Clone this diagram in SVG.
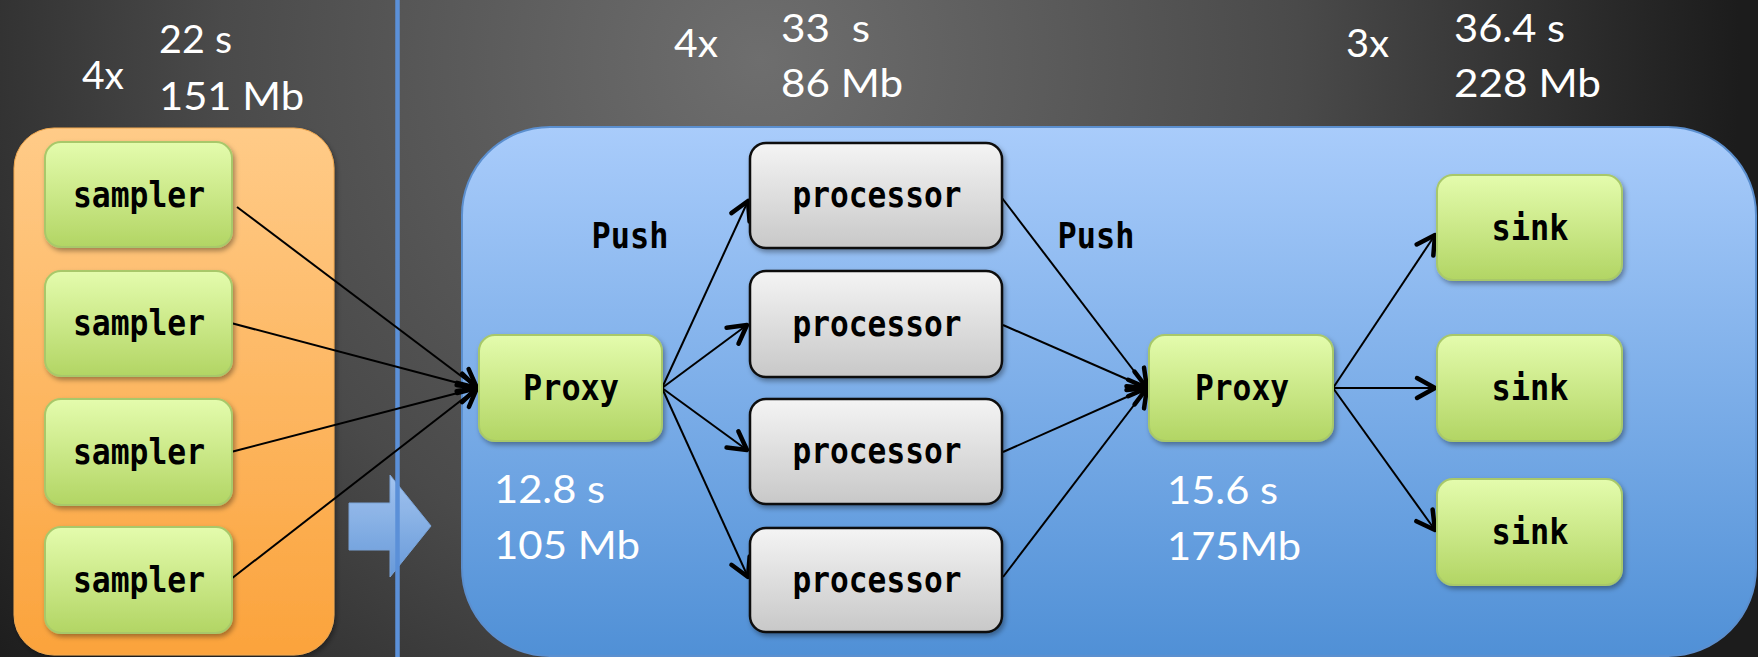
<svg xmlns="http://www.w3.org/2000/svg" width="1758" height="657" viewBox="0 0 1758 657">
<defs>
<radialGradient id="bg" gradientUnits="userSpaceOnUse" cx="760" cy="60" r="980">
<stop offset="0" stop-color="#6e6e6e"/>
<stop offset="0.55" stop-color="#4a4a4a"/>
<stop offset="1" stop-color="#1c1c1c"/>
</radialGradient>
<linearGradient id="green" x1="0" y1="0" x2="0" y2="1">
<stop offset="0" stop-color="#e4fcad"/>
<stop offset="1" stop-color="#b2d564"/>
</linearGradient>
<linearGradient id="gray" x1="0" y1="0" x2="0" y2="1">
<stop offset="0" stop-color="#f4f4f4"/>
<stop offset="1" stop-color="#c8c8c8"/>
</linearGradient>
<linearGradient id="orange" x1="0" y1="0" x2="0" y2="1">
<stop offset="0" stop-color="#ffcb88"/>
<stop offset="1" stop-color="#fba33c"/>
</linearGradient>
<linearGradient id="blue" x1="0" y1="0" x2="0" y2="1">
<stop offset="0" stop-color="#a9ccfb"/>
<stop offset="1" stop-color="#5090d6"/>
</linearGradient>
<linearGradient id="barrow" x1="0" y1="0" x2="0" y2="1">
<stop offset="0" stop-color="#a8cbf8"/>
<stop offset="1" stop-color="#6a9fe2"/>
</linearGradient>
<filter id="shadow" x="-10%" y="-10%" width="130%" height="130%">
<feDropShadow dx="2" dy="3" stdDeviation="2.5" flood-color="#000" flood-opacity="0.35"/>
</filter>
<marker id="arr" markerUnits="userSpaceOnUse" viewBox="-22 -14 26 28" refX="0" refY="0" markerWidth="26" markerHeight="28" orient="auto">
<path d="M -18 -10 L 0 0 L -18 10" fill="none" stroke="#000" stroke-width="4.5" stroke-linecap="round" stroke-linejoin="round"/>
</marker>
</defs>
<style>
.g{fill:url(#green);stroke:#a8c86a;stroke-width:2;filter:url(#shadow)}
.p{fill:url(#gray);stroke:#111;stroke-width:2.5;filter:url(#shadow)}
.lbl{font-family:"DejaVu Sans Mono","Liberation Mono",monospace;font-weight:bold;font-size:35px;fill:#000;text-anchor:middle}
.st{font-family:Lato,"Open Sans","Liberation Sans",sans-serif;font-size:39px;fill:#fff}
.c{fill:none;stroke:#000;stroke-width:2;marker-end:url(#arr)}
</style>
<rect x="0" y="0" width="1758" height="657" fill="url(#bg)"/>

<g id="group-samplers">
<rect x="14" y="128" width="320" height="527" rx="40" fill="url(#orange)" stroke="#f0a850" stroke-width="1" filter="url(#shadow)"/>
</g>
<g id="group-pipeline">
<rect x="462" y="127" width="1294" height="529" rx="88" fill="url(#blue)" stroke="#5b8fcf" stroke-width="2"/>
</g>

<g id="block-arrow">
<path d="M 349 503 L 390 503 L 390 475 L 431 526 L 390 577 L 390 550 L 349 550 Z" fill="url(#barrow)" stroke="#7ea9e0" stroke-width="1" opacity="0.95"/>
</g>
<line x1="397.5" y1="0" x2="397.5" y2="657" stroke="#5b90d8" stroke-width="4.5"/>

<g id="stats">
<text class="st" x="82" y="89" textLength="42" lengthAdjust="spacingAndGlyphs">4x</text>
<text class="st" x="159" y="53" textLength="73" lengthAdjust="spacingAndGlyphs">22 s</text>
<text class="st" x="159" y="110" textLength="145" lengthAdjust="spacingAndGlyphs">151 Mb</text>
<text class="st" x="674" y="57" textLength="44" lengthAdjust="spacingAndGlyphs">4x</text>
<text class="st" x="781" y="42" textLength="89" lengthAdjust="spacingAndGlyphs" xml:space="preserve">33  s</text>
<text class="st" x="781" y="97" textLength="122" lengthAdjust="spacingAndGlyphs">86 Mb</text>
<text class="st" x="1346" y="57" textLength="43" lengthAdjust="spacingAndGlyphs">3x</text>
<text class="st" x="1454" y="42" textLength="111" lengthAdjust="spacingAndGlyphs">36.4 s</text>
<text class="st" x="1454" y="97" textLength="147" lengthAdjust="spacingAndGlyphs">228 Mb</text>
<text class="st" x="494" y="503" textLength="111" lengthAdjust="spacingAndGlyphs">12.8 s</text>
<text class="st" x="494" y="559" textLength="146" lengthAdjust="spacingAndGlyphs">105 Mb</text>
<text class="st" x="1167" y="504" textLength="111" lengthAdjust="spacingAndGlyphs">15.6 s</text>
<text class="st" x="1167" y="560" textLength="134" lengthAdjust="spacingAndGlyphs">175Mb</text>
</g>

<g id="connectors">
<line class="c" x1="237" y1="207" x2="477" y2="388"/>
<line class="c" x1="231" y1="323" x2="477" y2="388"/>
<line class="c" x1="231" y1="452" x2="477" y2="388"/>
<line class="c" x1="231" y1="579" x2="477" y2="388"/>
<line class="c" x1="662" y1="388" x2="748" y2="201"/>
<line class="c" x1="662" y1="388" x2="747" y2="325"/>
<line class="c" x1="662" y1="388" x2="747" y2="450"/>
<line class="c" x1="662" y1="388" x2="748" y2="577"/>
<line class="c" x1="1002" y1="198" x2="1147" y2="388"/>
<line class="c" x1="1003" y1="325" x2="1147" y2="388"/>
<line class="c" x1="1003" y1="452" x2="1147" y2="388"/>
<line class="c" x1="1003" y1="577" x2="1147" y2="388"/>
<line class="c" x1="1333" y1="388" x2="1435" y2="235"/>
<line class="c" x1="1333" y1="388" x2="1435" y2="388"/>
<line class="c" x1="1333" y1="388" x2="1435" y2="530"/>
<text class="lbl" x="630" y="248" textLength="77" lengthAdjust="spacingAndGlyphs">Push</text>
<text class="lbl" x="1096" y="248" textLength="77" lengthAdjust="spacingAndGlyphs">Push</text>
</g>

<g id="sampler-1"><rect class="g" x="45" y="142" width="187" height="105" rx="16"/><text class="lbl" x="139" y="207" textLength="132" lengthAdjust="spacingAndGlyphs">sampler</text></g>
<g id="sampler-2"><rect class="g" x="45" y="271" width="187" height="105" rx="16"/><text class="lbl" x="139" y="335" textLength="132" lengthAdjust="spacingAndGlyphs">sampler</text></g>
<g id="sampler-3"><rect class="g" x="45" y="399" width="187" height="106" rx="16"/><text class="lbl" x="139" y="464" textLength="132" lengthAdjust="spacingAndGlyphs">sampler</text></g>
<g id="sampler-4"><rect class="g" x="45" y="527" width="187" height="106" rx="16"/><text class="lbl" x="139" y="592" textLength="132" lengthAdjust="spacingAndGlyphs">sampler</text></g>

<g id="proxy-1"><rect class="g" x="479" y="335" width="183" height="106" rx="16"/><text class="lbl" x="571" y="400" textLength="96" lengthAdjust="spacingAndGlyphs">Proxy</text></g>

<g id="processor-1"><rect class="p" x="750" y="143" width="252" height="105" rx="16"/><text class="lbl" x="877" y="207" textLength="169" lengthAdjust="spacingAndGlyphs">processor</text></g>
<g id="processor-2"><rect class="p" x="750" y="271" width="252" height="106" rx="16"/><text class="lbl" x="877" y="336" textLength="169" lengthAdjust="spacingAndGlyphs">processor</text></g>
<g id="processor-3"><rect class="p" x="750" y="399" width="252" height="105" rx="16"/><text class="lbl" x="877" y="463" textLength="169" lengthAdjust="spacingAndGlyphs">processor</text></g>
<g id="processor-4"><rect class="p" x="750" y="528" width="252" height="104" rx="16"/><text class="lbl" x="877" y="592" textLength="169" lengthAdjust="spacingAndGlyphs">processor</text></g>

<g id="proxy-2"><rect class="g" x="1149" y="335" width="184" height="106" rx="16"/><text class="lbl" x="1242" y="400" textLength="94" lengthAdjust="spacingAndGlyphs">Proxy</text></g>

<g id="sink-1"><rect class="g" x="1437" y="175" width="185" height="105" rx="16"/><text class="lbl" x="1530" y="240" textLength="77" lengthAdjust="spacingAndGlyphs">sink</text></g>
<g id="sink-2"><rect class="g" x="1437" y="335" width="185" height="106" rx="16"/><text class="lbl" x="1530" y="400" textLength="77" lengthAdjust="spacingAndGlyphs">sink</text></g>
<g id="sink-3"><rect class="g" x="1437" y="479" width="185" height="106" rx="16"/><text class="lbl" x="1530" y="544" textLength="77" lengthAdjust="spacingAndGlyphs">sink</text></g>
</svg>
